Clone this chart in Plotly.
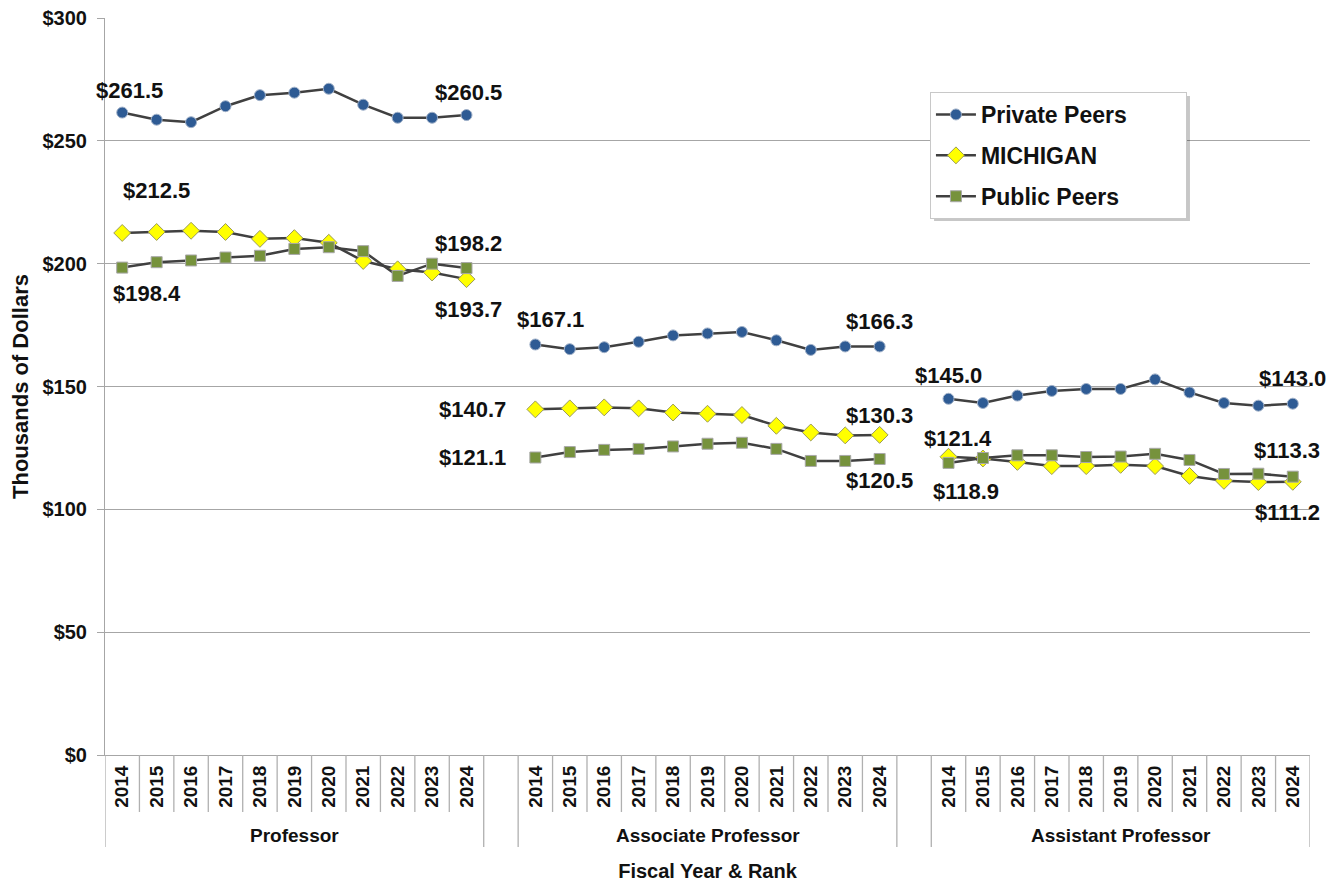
import plotly.graph_objects as go

years = ["2014", "2015", "2016", "2017", "2018", "2019", "2020", "2021", "2022", "2023", "2024"]
ranks = ["Professor", "Associate Professor", "Assistant Professor"]

private_prof = [261.5, 258.6, 257.6, 264.1, 268.6, 269.6, 271.2, 264.7, 259.4, 259.4, 260.5]
michigan_prof = [212.5, 212.9, 213.4, 212.9, 210.1, 210.4, 208.5, 201.1, 197.7, 196.4, 193.7]
public_prof = [198.4, 200.6, 201.3, 202.5, 203.2, 206.0, 206.7, 205.1, 195.0, 200.0, 198.2]

private_assoc = [167.1, 165.2, 166.0, 168.2, 170.8, 171.6, 172.2, 168.8, 164.9, 166.3, 166.3]
michigan_assoc = [140.7, 141.1, 141.5, 141.1, 139.4, 138.9, 138.4, 134.0, 131.3, 130.1, 130.3]
public_assoc = [121.1, 123.3, 124.2, 124.6, 125.6, 126.7, 127.1, 124.6, 119.7, 119.7, 120.5]

private_asst = [145.0, 143.3, 146.3, 148.2, 149.0, 149.0, 152.9, 147.6, 143.3, 142.2, 143.0]
michigan_asst = [121.4, 120.7, 119.3, 117.6, 117.6, 118.1, 117.6, 113.6, 111.6, 111.1, 111.2]
public_asst = [118.9, 120.9, 122.0, 122.0, 121.3, 121.5, 122.6, 120.1, 114.4, 114.5, 113.3]

series_names = ["Private Peers", "MICHIGAN", "Public Peers"]
series_data = [
    [private_prof, private_assoc, private_asst],
    [michigan_prof, michigan_assoc, michigan_asst],
    [public_prof, public_assoc, public_asst],
]

FONT = "Liberation Sans, Arial, sans-serif"
LINE_COLOR = "#404040"
GRID = "#A6A6A6"
n_years = len(years)
slot = n_years + 1  # one empty slot between rank groups


def positions():
    xs = []
    for g in range(len(ranks)):
        for i in range(n_years):
            xs.append(g * slot + i)
        if g < len(ranks) - 1:
            xs.append(g * slot + n_years)
    return xs


def flatten(groups):
    vals = []
    for g, arr in enumerate(groups):
        vals.extend(arr)
        if g < len(groups) - 1:
            vals.append(None)
    return vals


xs = positions()
styles = [
    dict(symbol="circle", size=11, color="#2E5B94", line=dict(color="#9FB0C8", width=1)),
    dict(symbol="diamond", size=13, color="#FFFF00", line=dict(color="#9A9A5A", width=1)),
    dict(symbol="square", size=11, color="#76923C", line=dict(color="#A8A8A8", width=1)),
]
legend_pad = ["\u00a0" * 5, "\u00a0" * 13, "\u00a0" * 7]

fig = go.Figure()
for name, groups, st, pad in zip(series_names, series_data, styles, legend_pad):
    fig.add_trace(go.Scatter(
        x=xs, y=flatten(groups), name=name + pad, mode="lines+markers",
        line=dict(color=LINE_COLOR, width=2.5), marker=st,
        connectgaps=False, legendgroup=name,
    ))

# data labels: (series index, group, first/last, xshift, yshift)
label_offsets = [
    (0, 0, 0, 7, 22), (0, 0, 1, 2, 23),
    (1, 0, 0, 34, 42), (1, 0, 1, 2, -30),
    (2, 0, 0, 25, -26), (2, 0, 1, 2, 25),
    (0, 1, 0, 15, 25), (0, 1, 1, 0, 25),
    (1, 1, 0, -63, 0), (1, 1, 1, 0, 19),
    (2, 1, 0, -63, 0), (2, 1, 1, 0, -22),
    (0, 2, 0, 0, 23), (0, 2, 1, 0, 25),
    (1, 2, 0, 9, 18), (1, 2, 1, -5, -31),
    (2, 2, 0, 17, -29), (2, 2, 1, -6, 26),
]
annotations = []
for s, g, end, dx, dy in label_offsets:
    idx = 0 if end == 0 else n_years - 1
    val = series_data[s][g][idx]
    annotations.append(dict(
        x=g * slot + idx, y=val, xref="x", yref="y", text=f"${val:.1f}",
        showarrow=False, xshift=dx, yshift=dy,
        font=dict(family=FONT, size=22, color="#111111", weight="bold"),
    ))

# rank group labels
for g, r in enumerate(ranks):
    annotations.append(dict(
        x=g * slot + (n_years - 1) / 2, y=-0.1095, xref="x", yref="paper",
        text=r, showarrow=False, yanchor="middle",
        font=dict(family=FONT, size=19, color="#111111", weight="bold"),
    ))

# divider lines below the axis
shapes = []
last = xs[-1]
long_bounds = set()
for g in range(len(ranks)):
    long_bounds.add(g * slot - 0.5)
    long_bounds.add(g * slot + n_years - 0.5)
for k in range(last + 2):
    b = k - 0.5
    is_long = b in long_bounds
    in_gap = any(abs(b - (g * slot + n_years + 0.5)) < 1e-9 for g in range(len(ranks) - 1))
    shapes.append(dict(
        type="line", xref="x", yref="paper", x0=b, x1=b, y0=0,
        y1=-0.1248 if is_long else (-0.0773 if not in_gap else 0),
        line=dict(color="#B0B0B0", width=1.3),
    ))

# legend drop shadow
shapes.append(dict(type="rect", xref="paper", yref="paper",
                   x0=0.6880, x1=0.9004, y0=0.7246, y1=0.8942,
                   line=dict(width=0), fillcolor="rgba(0,0,0,0.22)", layer="above"))

# The page body has an 8px margin, so the figure is sized/offset to compensate.
fig.update_layout(
    width=1331, height=874,
    margin=dict(l=97, r=29, t=10, b=127, autoexpand=False),
    paper_bgcolor="white", plot_bgcolor="white",
    font=dict(family=FONT, color="#111111"),
    showlegend=True,
    legend=dict(
        x=0.6846, y=0.8996, xanchor="left", yanchor="top",
        bgcolor="white", bordercolor="#C8C8C8", borderwidth=1,
        font=dict(family=FONT, size=23, color="#111111", weight="bold"),
        tracegroupgap=8, itemwidth=40,
    ),
    xaxis=dict(
        range=[-0.5, last + 0.5], tickmode="array",
        tickvals=[x for x in xs if (x % slot) < n_years],
        ticktext=years * len(ranks),
        tickangle=-90, ticks="", showgrid=False, zeroline=False,
        showline=True, linecolor=GRID, linewidth=1, automargin=False,
        tickfont=dict(family=FONT, size=19, color="#111111", weight="bold"),
        ticklabelstandoff=2,
        title=dict(text="Fiscal Year & Rank", standoff=57,
                   font=dict(family=FONT, size=20, color="#111111", weight="bold")),
    ),
    yaxis=dict(
        range=[0, 300], dtick=50, tickprefix="$",
        showgrid=True, gridcolor=GRID, gridwidth=1,
        showline=True, linecolor=GRID, linewidth=1,
        ticks="outside", ticklen=7, tickcolor=GRID,
        zeroline=False, automargin=False, ticklabelstandoff=6,
        ticklabeloverflow="allow",
        tickfont=dict(family=FONT, size=20, color="#111111", weight="bold"),
        title=dict(text="\u00a0" * 5 + "Thousands of Dollars", standoff=10,
                   font=dict(family=FONT, size=22, color="#111111", weight="bold")),
    ),
    annotations=annotations,
    shapes=shapes,
)

fig.write_html("out.html")
